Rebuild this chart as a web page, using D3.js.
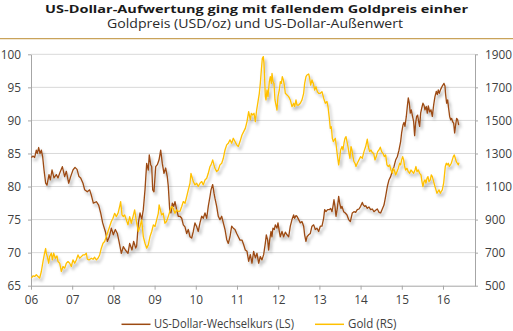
<!DOCTYPE html>
<html>
<head>
<meta charset="utf-8">
<script src="https://cdn.jsdelivr.net/npm/d3@7"></script>
<style>
  body { margin: 0; background: #fff; }
  svg { display: block; font-family: "Open Sans", "Noto Sans", sans-serif; }
</style>
</head>
<body>
<svg id="chart" width="513" height="331"></svg>
<script>
// Trade-weighted US dollar index (left scale), [decimal year, index]
const usdIndex = [
  [2006.008,84.4],[2006.049,84.6],[2006.089,84.4],[2006.129,85.5],[2006.154,85.0],[2006.186,85.9],[2006.218,85.0],[2006.251,85.5],[2006.283,84.5],[2006.316,82.5],[2006.356,80.5],[2006.388,80.2],[2006.437,81.8],[2006.469,81.0],[2006.51,82.5],[2006.558,81.3],[2006.615,81.8],[2006.655,81.3],[2006.696,82.0],[2006.761,83.0],[2006.817,81.5],[2006.858,82.3],[2006.914,80.5],[2006.963,81.5],
  [2007.019,82.5],[2007.068,82.9],[2007.117,82.6],[2007.165,81.5],[2007.206,81.3],[2007.262,80.5],[2007.303,79.5],[2007.367,79.2],[2007.424,79.5],[2007.464,78.7],[2007.513,77.5],[2007.586,77.7],[2007.642,77.2],[2007.691,76.0],[2007.74,74.5],[2007.804,73.2],[2007.853,71.7],[2007.901,72.4],[2007.95,73.7],[2007.998,72.7],
  [2008.047,73.5],[2008.095,72.9],[2008.136,71.7],[2008.193,69.9],[2008.241,70.9],[2008.29,70.4],[2008.354,69.9],[2008.395,71.4],[2008.451,70.4],[2008.492,71.7],[2008.541,70.7],[2008.565,71.0],[2008.606,74.5],[2008.646,76.0],[2008.687,75.0],[2008.726,76.5],[2008.767,79.5],[2008.808,83.5],[2008.847,82.5],[2008.871,84.8],[2008.905,83.3],[2008.93,83.0],[2008.954,79.5],[2008.985,79.2],
  [2009.027,83.0],[2009.066,83.3],[2009.107,84.0],[2009.148,85.5],[2009.187,83.5],[2009.228,82.0],[2009.269,82.8],[2009.308,81.5],[2009.333,80.0],[2009.367,76.5],[2009.398,76.0],[2009.43,77.5],[2009.466,77.0],[2009.495,77.7],[2009.535,76.5],[2009.575,75.5],[2009.617,75.5],[2009.658,75.2],[2009.697,74.2],[2009.738,73.9],[2009.779,72.9],[2009.818,73.5],[2009.859,72.4],[2009.9,72.2],[2009.939,73.2],[2009.98,74.5],
  [2010.022,73.9],[2010.06,73.2],[2010.102,74.5],[2010.143,75.5],[2010.182,75.2],[2010.223,76.0],[2010.265,75.2],[2010.303,77.0],[2010.345,78.5],[2010.37,79.5],[2010.41,80.3],[2010.442,79.0],[2010.466,78.2],[2010.507,77.0],[2010.546,75.5],[2010.587,75.0],[2010.629,75.5],[2010.668,74.5],[2010.709,73.5],[2010.75,72.0],[2010.789,71.4],[2010.83,72.4],[2010.871,74.0],[2010.91,73.7],[2010.951,73.5],[2010.993,72.9],
  [2011.032,72.4],[2011.073,71.9],[2011.121,71.9],[2011.162,71.2],[2011.202,70.4],[2011.243,70.2],[2011.283,68.7],[2011.323,69.7],[2011.364,68.4],[2011.404,70.2],[2011.445,69.2],[2011.485,69.9],[2011.526,68.4],[2011.566,69.4],[2011.606,68.9],[2011.647,69.7],[2011.687,71.4],[2011.712,72.7],[2011.744,71.9],[2011.768,70.4],[2011.793,71.9],[2011.825,73.2],[2011.849,72.4],[2011.873,73.7],[2011.906,73.5],[2011.93,74.2],[2011.97,73.7],[2011.995,74.5],
  [2012.027,73.2],[2012.051,72.4],[2012.092,73.2],[2012.132,72.4],[2012.173,73.1],[2012.213,72.7],[2012.254,72.4],[2012.294,74.0],[2012.335,75.0],[2012.375,75.7],[2012.399,75.2],[2012.432,75.6],[2012.456,75.5],[2012.497,75.0],[2012.537,74.5],[2012.577,74.7],[2012.618,74.0],[2012.642,72.7],[2012.674,71.7],[2012.699,72.4],[2012.739,72.7],[2012.78,72.9],[2012.82,74.0],[2012.861,74.2],[2012.901,73.5],[2012.941,73.7],[2012.982,73.2],
  [2013.022,74.0],[2013.063,74.0],[2013.103,75.2],[2013.128,76.5],[2013.16,76.2],[2013.2,76.5],[2013.241,76.5],[2013.273,76.7],[2013.306,76.2],[2013.33,77.0],[2013.354,78.0],[2013.378,77.0],[2013.403,75.5],[2013.435,76.7],[2013.468,78.5],[2013.492,77.5],[2013.524,76.7],[2013.548,77.0],[2013.589,76.2],[2013.629,76.0],[2013.67,75.7],[2013.71,75.0],[2013.751,74.7],[2013.799,76.0],[2013.839,76.2],[2013.88,76.1],[2013.92,76.5],[2013.961,76.6],
  [2014.001,77.0],[2014.042,77.6],[2014.066,77.2],[2014.098,77.0],[2014.123,77.1],[2014.163,76.7],[2014.203,76.9],[2014.244,76.5],[2014.284,76.6],[2014.325,76.2],[2014.365,76.4],[2014.406,76.6],[2014.446,76.1],[2014.487,76.0],[2014.527,76.6],[2014.568,77.2],[2014.608,78.5],[2014.649,80.0],[2014.689,81.0],[2014.729,81.5],[2014.77,82.3],[2014.81,83.0],[2014.851,84.0],[2014.891,84.5],[2014.932,85.5],[2014.972,86.8],[2014.996,88.1],
  [2015.029,89.3],[2015.053,89.7],[2015.077,89.1],[2015.11,90.6],[2015.134,92.1],[2015.158,93.4],[2015.182,92.6],[2015.207,91.1],[2015.231,91.6],[2015.255,90.8],[2015.288,89.8],[2015.312,87.7],[2015.336,89.6],[2015.36,90.6],[2015.385,90.8],[2015.409,89.8],[2015.433,89.1],[2015.458,91.1],[2015.482,91.8],[2015.514,92.6],[2015.538,92.3],[2015.563,91.6],[2015.595,92.1],[2015.619,91.1],[2015.644,92.2],[2015.676,91.3],[2015.708,91.6],[2015.741,90.6],[2015.773,92.3],[2015.805,93.6],[2015.838,94.4],[2015.862,93.9],[2015.886,94.6],[2015.911,94.1],[2015.943,94.7],[2015.983,95.2],
  [2016.024,95.6],[2016.048,95.2],[2016.064,93.9],[2016.089,92.6],[2016.113,93.1],[2016.137,91.8],[2016.162,90.6],[2016.186,90.1],[2016.21,90.3],[2016.234,89.8],[2016.259,89.6],[2016.283,88.1],[2016.307,89.3],[2016.331,90.3],[2016.356,90.1],[2016.38,89.3]
];

// Gold price in USD per ounce (right scale), [decimal year, price]
const goldPrice = [
  [2006.008,546],[2006.049,560],[2006.089,556],[2006.129,566],[2006.17,556],[2006.21,546],[2006.251,586],[2006.291,646],[2006.332,700],[2006.356,725],[2006.372,695],[2006.396,676],[2006.429,636],[2006.453,676],[2006.494,697],[2006.518,656],[2006.55,697],[2006.591,666],[2006.631,680],[2006.655,646],[2006.696,636],[2006.736,586],[2006.777,616],[2006.817,606],[2006.858,636],[2006.898,646],[2006.939,636],[2006.979,616],
  [2007.019,656],[2007.06,636],[2007.1,656],[2007.141,686],[2007.181,666],[2007.222,676],[2007.262,686],[2007.303,686],[2007.343,697],[2007.367,660],[2007.408,656],[2007.464,666],[2007.505,660],[2007.545,672],[2007.586,656],[2007.626,666],[2007.667,686],[2007.707,727],[2007.748,757],[2007.788,767],[2007.828,797],[2007.869,828],[2007.909,858],[2007.95,888],[2007.99,908],
  [2008.031,938],[2008.071,918],[2008.112,938],[2008.152,979],[2008.176,1009],[2008.209,928],[2008.241,918],[2008.274,928],[2008.314,898],[2008.354,868],[2008.395,918],[2008.435,878],[2008.476,918],[2008.516,959],[2008.565,878],[2008.606,828],[2008.646,858],[2008.687,898],[2008.726,797],[2008.767,757],[2008.808,727],[2008.847,747],[2008.888,797],[2008.93,828],[2008.97,868],
  [2009.01,858],[2009.05,898],[2009.09,938],[2009.11,989],[2009.14,959],[2009.17,928],[2009.21,938],[2009.25,878],[2009.29,888],[2009.33,918],[2009.37,949],[2009.41,979],[2009.45,969],[2009.495,938],[2009.535,959],[2009.575,949],[2009.617,951],[2009.658,979],[2009.697,1009],[2009.738,999],[2009.779,1039],[2009.818,1080],[2009.859,1120],[2009.883,1180],[2009.916,1150],[2009.939,1130],[2009.98,1110],
  [2010.022,1120],[2010.06,1100],[2010.102,1120],[2010.143,1130],[2010.182,1110],[2010.223,1140],[2010.265,1150],[2010.303,1180],[2010.345,1221],[2010.37,1231],[2010.41,1261],[2010.44,1231],[2010.466,1211],[2010.507,1190],[2010.546,1200],[2010.587,1231],[2010.629,1241],[2010.668,1271],[2010.709,1321],[2010.75,1352],[2010.789,1362],[2010.83,1382],[2010.871,1362],[2010.91,1392],[2010.951,1372],[2010.993,1352],
  [2011.032,1342],[2011.073,1372],[2011.121,1412],[2011.162,1432],[2011.202,1452],[2011.243,1493],[2011.283,1553],[2011.324,1503],[2011.348,1543],[2011.38,1533],[2011.413,1543],[2011.445,1493],[2011.477,1563],[2011.51,1614],[2011.542,1664],[2011.566,1724],[2011.591,1805],[2011.615,1876],[2011.639,1886],[2011.655,1845],[2011.672,1745],[2011.688,1644],[2011.704,1624],[2011.728,1684],[2011.752,1644],[2011.785,1735],[2011.809,1765],[2011.833,1724],[2011.85,1785],[2011.874,1735],[2011.898,1724],[2011.922,1624],[2011.947,1593],[2011.971,1563],[2011.995,1644],
  [2012.027,1684],[2012.052,1735],[2012.076,1724],[2012.1,1765],[2012.125,1745],[2012.149,1714],[2012.173,1664],[2012.214,1654],[2012.254,1644],[2012.294,1624],[2012.335,1583],[2012.375,1604],[2012.4,1583],[2012.432,1624],[2012.456,1593],[2012.497,1593],[2012.537,1604],[2012.578,1624],[2012.618,1664],[2012.642,1724],[2012.675,1765],[2012.699,1775],[2012.74,1781],[2012.764,1755],[2012.788,1714],[2012.82,1745],[2012.853,1724],[2012.885,1684],[2012.917,1704],[2012.95,1674],[2012.982,1664],
  [2013.023,1664],[2013.063,1674],[2013.104,1634],[2013.144,1604],[2013.184,1614],[2013.209,1583],[2013.241,1513],[2013.265,1452],[2013.29,1462],[2013.314,1392],[2013.338,1372],[2013.362,1382],[2013.387,1392],[2013.411,1342],[2013.435,1291],[2013.468,1231],[2013.492,1271],[2013.516,1321],[2013.549,1342],[2013.573,1321],[2013.597,1362],[2013.621,1392],[2013.646,1402],[2013.67,1372],[2013.694,1342],[2013.718,1301],[2013.742,1271],[2013.767,1342],[2013.791,1321],[2013.815,1281],[2013.839,1251],[2013.864,1241],[2013.888,1221],[2013.92,1241],[2013.961,1261],
  [2014.001,1281],[2014.042,1271],[2014.082,1311],[2014.123,1342],[2014.163,1386],[2014.187,1342],[2014.22,1311],[2014.252,1321],[2014.284,1305],[2014.317,1301],[2014.349,1261],[2014.381,1281],[2014.414,1311],[2014.446,1321],[2014.479,1338],[2014.511,1311],[2014.543,1301],[2014.576,1281],[2014.608,1291],[2014.64,1231],[2014.673,1221],[2014.705,1231],[2014.737,1200],[2014.77,1180],[2014.794,1211],[2014.818,1200],[2014.851,1170],[2014.883,1190],[2014.915,1211],[2014.948,1241],[2014.972,1231],[2014.996,1261],
  [2015.021,1281],[2015.045,1261],[2015.069,1221],[2015.093,1200],[2015.126,1211],[2015.158,1190],[2015.191,1180],[2015.223,1200],[2015.255,1190],[2015.288,1180],[2015.32,1200],[2015.344,1221],[2015.369,1190],[2015.401,1200],[2015.433,1180],[2015.466,1170],[2015.49,1130],[2015.514,1100],[2015.538,1130],[2015.563,1140],[2015.587,1120],[2015.611,1150],[2015.635,1160],[2015.66,1130],[2015.692,1140],[2015.716,1170],[2015.741,1160],[2015.773,1130],[2015.805,1100],[2015.83,1080],[2015.854,1059],[2015.878,1070],[2015.903,1080],[2015.935,1059],[2015.959,1070],[2015.983,1080],
  [2016.016,1120],[2016.032,1160],[2016.056,1221],[2016.081,1241],[2016.105,1231],[2016.129,1241],[2016.153,1221],[2016.178,1231],[2016.202,1241],[2016.226,1261],[2016.25,1281],[2016.275,1291],[2016.299,1271],[2016.323,1251],[2016.348,1241],[2016.372,1231],[2016.388,1245]
];

const yearTicks = d3.range(2006, 2017);
const usdTicks = d3.range(65, 101, 5);
const goldTicks = d3.range(500, 1901, 200);
const seriesNames = ["US-Dollar-Wechselkurs (LS)", "Gold (RS)"];
const titleText = "US-Dollar-Aufwertung ging mit fallendem Goldpreis einher";
const subtitleText = "Goldpreis (USD/oz) und US-Dollar-Außenwert";

const colors = { usd: "#9c4a12", gold: "#ffc000", axis: "#a6a6a6", grid: "#d9d9d9", text: "#404040", rule: "#c9a35a" };

const svg = d3.select("#chart");
const plot = { left: 31, right: 475, top: 54.3, bottom: 285.7 };

const x = d3.scaleLinear().domain([2006, 2016.777]).range([plot.left, plot.right]);
const yL = d3.scaleLinear().domain([65, 100]).range([plot.bottom, plot.top]);
const yR = d3.scaleLinear().domain([500, 1900]).range([plot.bottom, plot.top]);

// Shrink/stretch a text to a given width when the font runs wider or narrower
function fitWidth(sel, target) {
  const w = sel.node().getComputedTextLength();
  if (Math.abs(w - target) > 1) sel.attr("textLength", target).attr("lengthAdjust", "spacingAndGlyphs");
  return sel;
}

// Heading
const title = svg.append("text").attr("x", 256.5).attr("y", 12.5).attr("text-anchor", "middle")
  .attr("font-size", 11.4).attr("font-weight", 700).attr("fill", "#1a1a1a").text(titleText);
fitWidth(title, 423);
const subtitle = svg.append("text").attr("x", 255).attr("y", 27.6).attr("text-anchor", "middle")
  .attr("font-size", 12).attr("fill", "#2a2a2a").text(subtitleText);
fitWidth(subtitle, 296);
svg.append("line").attr("x1", 0).attr("x2", 513).attr("y1", 38.7).attr("y2", 38.7)
  .attr("stroke", colors.rule).attr("stroke-width", 1.2);

// Soft shadow under the series lines
const defs = svg.append("defs");
defs.append("filter").attr("id", "lineShadow").attr("filterUnits", "userSpaceOnUse")
  .attr("x", 0).attr("y", 0).attr("width", 513).attr("height", 331)
  .append("feDropShadow").attr("dx", 2).attr("dy", 3).attr("stdDeviation", 1.6)
  .attr("flood-color", "#000").attr("flood-opacity", 0.3);

// Horizontal gridlines
svg.append("g").selectAll("line").data(usdTicks.filter(d => d > 65)).join("line")
  .attr("x1", plot.left).attr("x2", plot.right)
  .attr("y1", d => yL(d)).attr("y2", d => yL(d))
  .attr("stroke", colors.grid).attr("stroke-width", 1);

// Axes
function styleAxis(g) {
  g.select(".domain").attr("stroke", colors.axis);
  g.selectAll(".tick line").attr("stroke", colors.axis);
  g.selectAll(".tick text").attr("fill", colors.text).attr("font-size", 11.8)
    .attr("font-family", "\"Open Sans\", \"Noto Sans\", sans-serif");
}

svg.append("g").attr("transform", `translate(${plot.left},0)`)
  .call(d3.axisLeft(yL).tickValues(usdTicks).tickSize(3).tickSizeOuter(0).tickPadding(7).tickFormat(d3.format("d")))
  .call(styleAxis);

svg.append("g").attr("transform", `translate(${plot.right},0)`)
  .call(d3.axisRight(yR).tickValues(goldTicks).tickSize(3).tickSizeOuter(0).tickPadding(7).tickFormat(d3.format("d")))
  .call(styleAxis);

svg.append("g").attr("transform", `translate(0,${plot.bottom})`)
  .call(d3.axisBottom(x).tickValues(yearTicks).tickSize(4).tickSizeOuter(0).tickPadding(6)
    .tickFormat(d => String(d).slice(2)))
  .call(styleAxis);

// Series
const usdLine = d3.line().x(d => x(d[0])).y(d => yL(d[1]));
const goldLine = d3.line().x(d => x(d[0])).y(d => yR(d[1]));

const series = svg.append("g").attr("filter", "url(#lineShadow)");
series.append("path").datum(usdIndex).attr("d", usdLine)
  .attr("fill", "none").attr("stroke", colors.usd).attr("stroke-width", 1.3).attr("stroke-linejoin", "round");
series.append("path").datum(goldPrice).attr("d", goldLine)
  .attr("fill", "none").attr("stroke", colors.gold).attr("stroke-width", 1.3).attr("stroke-linejoin", "round");

// Legend
const legend = svg.append("g").attr("font-size", 11.8).attr("fill", colors.text);
const legendItems = [
  { name: seriesNames[0], color: colors.usd, x0: 121.5, x1: 150.5, tx: 154, tw: 140 },
  { name: seriesNames[1], color: colors.gold, x0: 315, x1: 344, tx: 348, tw: 48.5 }
];
legendItems.forEach(it => {
  legend.append("line").attr("x1", it.x0).attr("x2", it.x1).attr("y1", 324.3).attr("y2", 324.3)
    .attr("stroke", it.color).attr("stroke-width", 1.5);
  const t = legend.append("text").attr("x", it.tx).attr("y", 328.4).attr("fill", colors.text).text(it.name);
  fitWidth(t, it.tw);
});
</script>
</body>
</html>
